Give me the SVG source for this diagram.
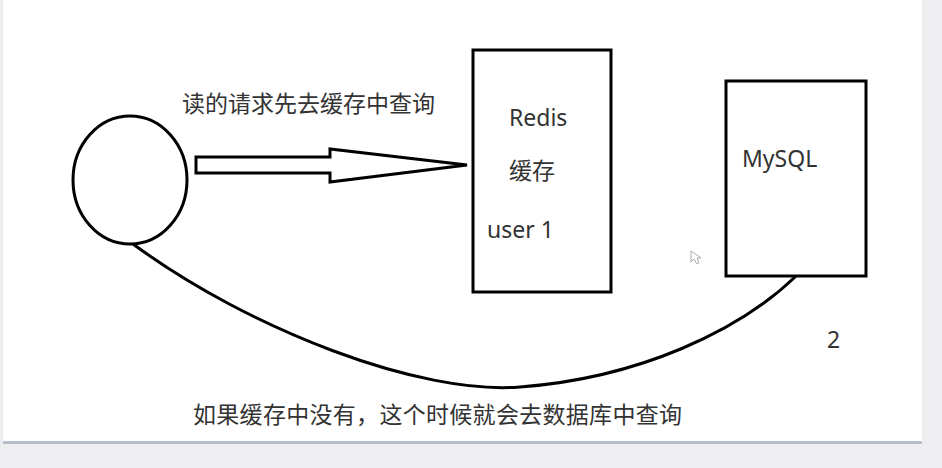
<svg xmlns="http://www.w3.org/2000/svg" width="942" height="468" viewBox="0 0 942 468">
<style>
.shape{fill:#fff;stroke:#000;stroke-width:3}
.line{fill:none;stroke:#000;stroke-width:3;stroke-linecap:round}
.t{font-family:"Noto Sans","Noto Sans CJK SC",sans-serif;font-size:23px;fill:#333}
.cjk{font-family:"Noto Sans CJK SC","Noto Sans",sans-serif;font-size:23px;fill:#333}
</style>
<rect x="0" y="0" width="942" height="468" fill="#eeeef1"/>
<rect x="3" y="0" width="919" height="441" fill="#fff"/>
<rect x="3" y="441" width="919" height="3" fill="#b7bfcd"/>
<g id="connectors">
<path class="shape" d="M196,157 L330,157 L330,149 L467,165 L330,182 L330,173 L196,173 Z"/>
<path class="line" d="M133,244 C250,330 420,395 520,387 C640,378 740,330 795,277"/>
</g>
<g id="client">
<ellipse class="shape" cx="130" cy="180" rx="57" ry="64"/>
</g>
<g id="redis">
<rect class="shape" x="473" y="50" width="138" height="242"/>
<text class="t" x="509" y="126">Redis</text>
<text class="cjk" x="509" y="179">缓存</text>
<text class="t" x="487" y="238">user 1</text>
</g>
<g id="mysql">
<rect class="shape" x="726" y="81" width="140" height="195"/>
<text class="t" x="742" y="167">MySQL</text>
</g>
<text class="cjk" x="182" y="112">读的请求先去缓存中查询</text>
<text class="cjk" x="193" y="423" textLength="489" lengthAdjust="spacing">如果缓存中没有，这个时候就会去数据库中查询</text>
<text class="t" x="827" y="348">2</text>
<path d="M691,251 L691,262 L694,259 L697,264 L699,263 L697,258 L701,258 Z" fill="#fff" stroke="#aaa" stroke-width="1"/>
</svg>
